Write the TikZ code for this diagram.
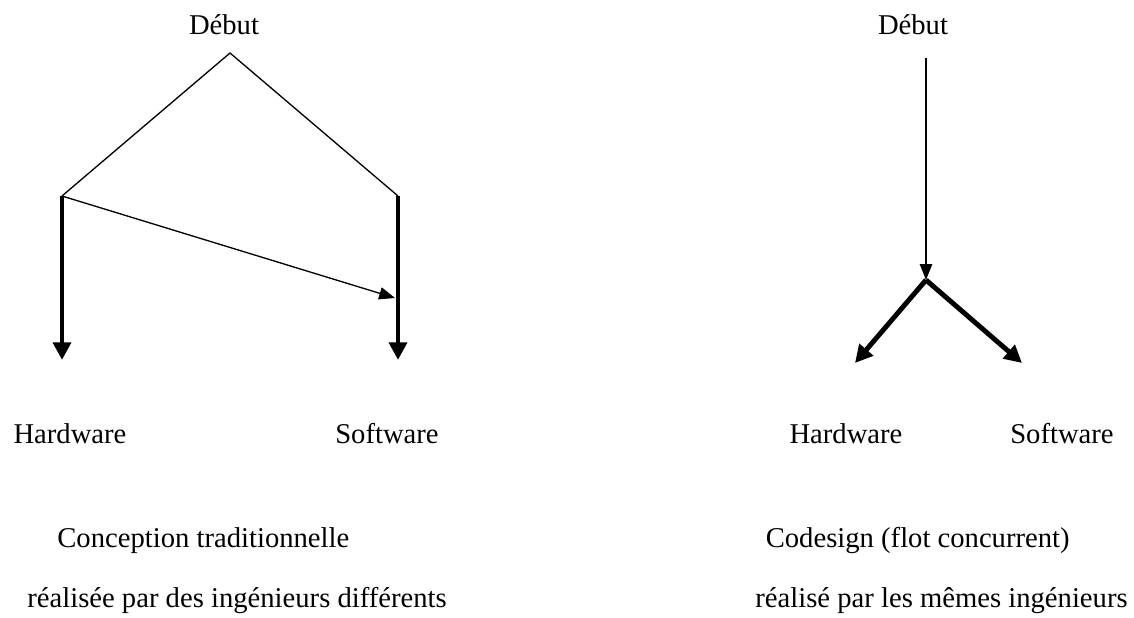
\documentclass[tikz,border=0pt]{standalone}
\usepackage{fontspec}
\setmainfont{Liberation Serif}
\usetikzlibrary{positioning,arrows.meta}

\begin{document}
\begin{tikzpicture}[
  thin arrow/.style={line width=0.75pt, -{Triangle[length=9pt,width=7pt]}},
  thick arrow/.style={line width=2.8pt, -{Triangle[length=10pt,width=10pt]}},
  lbl/.style={anchor=base, inner sep=0pt, font=\fontsize{16.3}{19}\selectfont}
]
\useasboundingbox (0,0) rectangle (22.68,-12.36);

% Traditional flow (left)
\node[lbl] (debutL) at (4.48,-0.70) {Début};
\coordinate (apex)  at (4.60,-1.06);
\coordinate (hwTop) at (1.24,-3.92);
\coordinate (swTop) at (7.96,-3.92);
\coordinate (hwEnd) at (1.24,-7.20);
\coordinate (swEnd) at (7.96,-7.20);
\coordinate (swMid) at (7.90,-5.96);

\draw[line width=0.75pt] (hwTop) -- (apex) -- (swTop);
\draw[thick arrow] (hwTop) -- (hwEnd);
\draw[thick arrow] (swTop) -- (swEnd);
\draw[thin arrow] (hwTop) -- (swMid);

\node[lbl] (hwL) at (1.40,-8.86) {Hardware};
\node[lbl] (swL) at (7.74,-8.86) {Software};
\node[lbl, anchor=base west] (titleL) at (1.14,-10.94) {Conception traditionnelle};
\node[lbl, anchor=base west] (noteL)  at (0.54,-12.14) {réalisée par des ingénieurs différents};

% Concurrent flow (right)
\node[lbl] (debutR) at (18.26,-0.70) {Début};
\coordinate (startR) at (18.52,-1.16);
\coordinate (fork)   at (18.52,-5.60);
\coordinate (hwTip)  at (17.10,-7.26);
\coordinate (swTip)  at (20.44,-7.26);

\draw[thin arrow] (startR) -- (fork);
\draw[thick arrow] (fork) -- (hwTip);
\draw[thick arrow] (fork) -- (swTip);

\node[lbl] (hwR) at (16.92,-8.86) {Hardware};
\node[lbl] (swR) at (21.24,-8.86) {Software};
\node[lbl, anchor=base east] (titleR) at (21.40,-10.94) {Codesign (flot concurrent)};
\node[lbl, anchor=base east] (noteR)  at (22.56,-12.14) {réalisé par les mêmes ingénieurs};

\end{tikzpicture}
\end{document}
